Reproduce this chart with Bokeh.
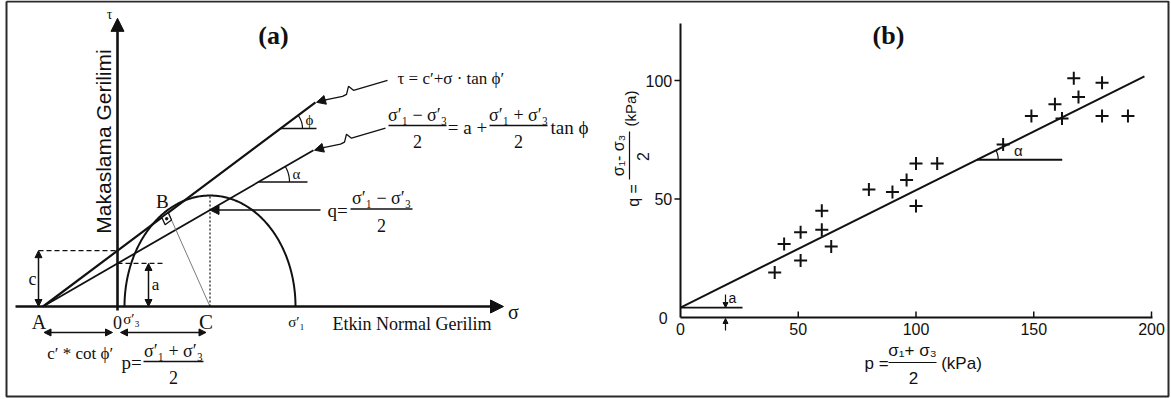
import numpy as np
from bokeh.plotting import figure
from bokeh.models import Range1d, Arrow, NormalHead
from bokeh.core.properties import value
from bokeh.embed import file_html
from bokeh.resources import INLINE

# ---------------- (a) Mohr–Coulomb construction (schematic stress units) ----------------
sigma3_eff = 7.0        # σ'3
sigma1_eff = 178.0      # σ'1
c_eff = 43.0            # c'
phi_eff_deg = 30.0      # φ'
alpha_deg = 24.0        # slope angle of the Kf line
tau_line_end = 198.0    # σ where the τ-envelope stops
kf_line_end = 196.0     # σ where the Kf line stops

# ---------------- (b) p–q results (kPa) ----------------
p_kpa = [40, 44, 51, 51, 60, 60, 64, 80, 90, 96, 100, 100, 109, 137, 149, 159, 162, 167, 169, 179, 179, 190]
q_kpa = [19, 31, 24, 36, 37, 45, 30, 54, 53, 58, 47, 65, 65, 73, 85, 90, 84, 101, 93, 99, 85, 85]
kf_a_kpa = 4.2
kf_tan_alpha = 0.495
kf_p_max = 197
p_ticks = [0, 50, 100, 150, 200]
q_ticks = [0, 50, 100]
p_axis_max = 200.4
q_axis_max = 124

# ---------------- canvas and coordinate systems ----------------
W, H = 1171, 399
A_O = (117, 306); A_SX = 1.0; A_SY = 1.298     # panel (a) origin (px) and px per unit
B_O = (680, 317); B_SX = 2.355; B_SY = 2.37    # panel (b) origin (px) and px per kPa

SERIF = "Liberation Serif"
SANS = "Liberation Sans"
INK = "#111111"

fig = figure(width=W, height=H, x_range=Range1d(0, W), y_range=Range1d(H, 0),
             min_border=0, toolbar_location=None, output_backend="svg",
             x_axis_location=None, y_axis_location=None)
fig.grid.visible = False
fig.outline_line_color = None
fig.background_fill_color = "white"
fig.border_fill_color = "white"
fig.extra_x_ranges = {"sa": Range1d(-A_O[0] / A_SX, (W - A_O[0]) / A_SX),
                      "pb": Range1d(-B_O[0] / B_SX, (W - B_O[0]) / B_SX)}
fig.extra_y_ranges = {"ta": Range1d(-(H - A_O[1]) / A_SY, A_O[1] / A_SY),
                      "qb": Range1d(-(H - B_O[1]) / B_SY, B_O[1] / B_SY)}
RA = dict(x_range_name="sa", y_range_name="ta")
RB = dict(x_range_name="pb", y_range_name="qb")


def a_px(s, t):
    return A_O[0] + s * A_SX, A_O[1] - t * A_SY


def line(xs, ys, rng=None, color=INK, width=1.5, dash="solid"):
    fig.line(list(xs), list(ys), line_color=color, line_width=width, line_dash=dash, **(rng or {}))


def head(size):
    return NormalHead(size=size, fill_color=INK, line_color=INK, line_width=1)


def arrow(x0, y0, x1, y1, rng=None, width=1.5, size=8, both=False):
    fig.add_layout(Arrow(x_start=x0, y_start=y0, x_end=x1, y_end=y1,
                         end=head(size), start=head(size) if both else None,
                         line_color=INK, line_width=width, **(rng or {})))


def txt(x, y, s, size, font=SERIF, align="center", baseline="middle", angle=0.0,
        style="normal", rng=None):
    fig.text(x=[x], y=[y], text=[s], text_font=value(font), text_font_size=f"{size}px",
             text_font_style=style, text_align=align, text_baseline=baseline,
             angle=angle, text_color=INK, **(rng or {}))


def frac_h(xc, ybar, num, den, w, size, font=SERIF, gap_n=11, gap_d=16):
    txt(xc, ybar - gap_n, num, size, font)
    line([xc - w / 2, xc + w / 2], [ybar, ybar], width=1.3)
    txt(xc, ybar + gap_d, den, size, font)


# outer frame
line([6, 1168, 1168, 6, 6], [1, 1, 396, 396, 1], color="#2a2a2a", width=2)

# ======================= panel (a) =======================
tphi = np.tan(np.radians(phi_eff_deg))
talpha = np.tan(np.radians(alpha_deg))
sigma_A = -c_eff / tphi
a_eff = -sigma_A * talpha
p_c = (sigma1_eff + sigma3_eff) / 2
R = (sigma1_eff - sigma3_eff) / 2

# axes with arrowheads
arrow(-102, 0, 386, 0, RA, width=2.6, size=13)
arrow(0, -3, 0, 222, RA, width=2.6, size=13)

# Mohr circle
th = np.linspace(0, np.pi, 240)
line(p_c + R * np.cos(th), R * np.sin(th), RA, width=2)

# failure envelope and Kf line
line([sigma_A, tau_line_end], [0, c_eff + tau_line_end * tphi], RA, width=2.2)
line([sigma_A, kf_line_end], [0, a_eff + kf_line_end * talpha], RA, width=1.8)

# angle marks
def angle_mark(s_v, t_v, t_slope, length_px, r_px, sym, lab_dx, lab_dy):
    line([s_v, s_v + length_px / A_SX], [t_v, t_v], RA, width=1.5)
    ang = np.arctan(t_slope * A_SY / A_SX)
    tt = np.linspace(0, ang, 30)
    line(s_v + r_px * np.cos(tt) / A_SX, t_v + r_px * np.sin(tt) / A_SY, RA, width=1.2)
    txt(s_v + lab_dx / A_SX, t_v + lab_dy / A_SY, sym, 15, rng=RA)

s_phi = 163.0
angle_mark(s_phi, c_eff + s_phi * tphi, tphi, 36, 22, "ϕ", 29, 9)
s_al = 141.0
angle_mark(s_al, a_eff + s_al * talpha, talpha, 49, 31, "α", 38, 8)

# tangent point B, radius BC and right-angle mark
d = np.array([np.cos(np.radians(phi_eff_deg)), np.sin(np.radians(phi_eff_deg))])
P0 = np.array([0.0, c_eff])
Cc = np.array([p_c, 0.0])
Bp = P0 + np.dot(Cc - P0, d) * d
line([Bp[0], p_c], [Bp[1], 0], RA, color="#7a7a7a", width=1)
bx, by = a_px(*Bp)
ax_, ay_ = a_px(sigma_A, 0)
cx_, cy_ = a_px(p_c, 0)
u1 = np.array([ax_ - bx, ay_ - by]); u1 /= np.hypot(*u1)
u2 = np.array([cx_ - bx, cy_ - by]); u2 /= np.hypot(*u2)
s_sq = 8
sq = [np.array([bx, by]), np.array([bx, by]) + s_sq * u1,
      np.array([bx, by]) + s_sq * (u1 + u2), np.array([bx, by]) + s_sq * u2]
fig.patch([q[0] for q in sq], [q[1] for q in sq], fill_color="white", line_color=INK, line_width=1.3)
ctr = np.array([bx, by]) + s_sq * (u1 + u2) / 2
fig.scatter([ctr[0]], [ctr[1]], size=2.5, color=INK)
txt(bx - 6, by - 11, "B", 19)

# q at the top of the circle
line([p_c, p_c], [0, R], RA, width=1.2, dash="2 2")
q_tau = a_eff + p_c * talpha
arrow(203, q_tau, p_c, q_tau, RA, width=1.6, size=9)
qx, qy = a_px(203, q_tau)
txt(qx + 17, qy, "q=", 19)
frac_h(qx + 61, qy - 1, "σ′₁ − σ′₃", "2", 62, 18)

# c and a dimensions
s_cdim = -79
line([s_cdim, 0], [c_eff, c_eff], RA, width=1.3, dash="5 3")
arrow(s_cdim, 0, s_cdim, c_eff, RA, width=1.5, size=7, both=True)
txt(s_cdim - 6, c_eff / 2, "c", 18, rng=RA)
s_adim = 31
line([0, 48], [a_eff, a_eff], RA, width=1.3, dash="5 3")
arrow(s_adim, 0, s_adim, a_eff, RA, width=1.5, size=7, both=True)
txt(s_adim + 7, a_eff / 2, "a", 17, rng=RA)

# labels on the σ axis
txt(sigma_A - 4, -12, "A", 20, rng=RA)
txt(0, -12, "0", 18, rng=RA)
txt(sigma3_eff + 7, -10, "σ′₃", 15, rng=RA)
txt(p_c - 4, -12, "C", 21, rng=RA)
txt(sigma1_eff + 1, -12, "σ′₁", 15, rng=RA)
txt(332, 323, "Etkin Normal Gerilim", 18, align="left")
txt(513, 311, "σ", 20)
txt(109, 14, "τ", 14)
txt(103, 141, "Makaslama Gerilimi", 21, font=SANS, angle=np.pi / 2)

# dimension arrows under the axis
arrow(sigma_A + 1, -20, -5, -20, RA, width=1.5, size=7, both=True)
txt(sigma_A / 2, -36, "c′ * cot ϕ′", 17, rng=RA)
arrow(3, -20, p_c - 4, -20, RA, width=1.5, size=7, both=True)
txt(131, 362, "p=", 19)
frac_h(173, 361, "σ′₁ + σ′₃", "2", 60, 18)

# formulas with lightning leaders
def leader(tx, ty):
    pts = [(72, -22), (38, -12), (33, -16), (31, -8), (27, -6), (10, -2.5)]
    line([tx + p[0] for p in pts], [ty + p[1] for p in pts], width=1.3)
    arrow(tx + 11, ty - 2.8, tx + 1, ty, width=1.3, size=9)

ex, ey = a_px(tau_line_end, c_eff + tau_line_end * tphi)
leader(ex, ey)
kx, ky = a_px(kf_line_end, a_eff + kf_line_end * talpha)
leader(kx, ky)

txt(397, 78, "τ = c′+σ · tan ϕ′", 17, align="left")
frac_h(417, 125, "σ′₁ − σ′₃", "2", 58, 18)
txt(467, 127, "= a +", 19)
frac_h(518, 125, "σ′₁ + σ′₃", "2", 58, 18)
txt(550, 127, "tan ϕ", 19, align="left")

txt(273, 35, "(a)", 26, style="bold")

# ======================= panel (b) =======================
line([0, p_axis_max], [0, 0], RB, width=2)
line([0, 0], [0, q_axis_max], RB, width=2)
xt = p_ticks[1:]
fig.segment(x0=xt, y0=[0] * len(xt), x1=xt, y1=[6 / B_SY] * len(xt), line_color=INK, line_width=1.5, **RB)
yt = q_ticks[1:]
fig.segment(x0=[-6 / B_SX] * len(yt), y0=yt, x1=[0] * len(yt), y1=yt, line_color=INK, line_width=1.5, **RB)
for v in p_ticks:
    txt(v, -5, str(v), 16, font=SANS, rng=RB)
for v in q_ticks:
    txt(-3.5 if v else -5.5, v, str(v), 16, font=SANS, align="right", rng=RB)

# Kf line and data
line([0, kf_p_max], [kf_a_kpa, kf_a_kpa + kf_p_max * kf_tan_alpha], RB, width=2)
fig.scatter(p_kpa, q_kpa, marker="cross", size=13, line_width=2, line_color=INK, **RB)

# α mark on the Kf line
p_v = 126.0
q_v = kf_a_kpa + p_v * kf_tan_alpha
line([p_v, p_v + 85 / B_SX], [q_v, q_v], RB, width=1.8)
ang_b = np.arctan(kf_tan_alpha * B_SY / B_SX)
tb = np.linspace(0, ang_b, 30)
line(p_v + 21 * np.cos(tb) / B_SX, q_v + 21 * np.sin(tb) / B_SY, RB, width=1.2)
txt(p_v + 41 / B_SX, q_v + 9 / B_SY, "α", 15, font=SANS, rng=RB)

# intercept a
line([0, 62 / B_SX], [kf_a_kpa, kf_a_kpa], RB, width=1.8)
p_am = 45 / B_SX
arrow(p_am, kf_a_kpa + 13 / B_SY, p_am, kf_a_kpa, RB, width=1.2, size=5)
arrow(p_am, -13 / B_SY, p_am, -1 / B_SY, RB, width=1.2, size=5)
txt(p_am + 3 / B_SX, kf_a_kpa + 10 / B_SY, "a", 14, font=SANS, align="left", rng=RB)

# axis titles
txt(876, 363, "p =", 17, font=SANS)
txt(912, 350, "σ₁+ σ₃", 17, font=SANS)
line([888, 936], [362, 362], width=1.2)
txt(913, 377, "2", 17, font=SANS)
txt(961, 363, "(kPa)", 17, font=SANS)

rot = np.pi / 2
txt(633, 195, "q =", 16, font=SANS, angle=rot)
txt(618, 155, "σ₁- σ₃", 16, font=SANS, angle=rot)
line([629, 629], [131, 179], width=1.2)
txt(642, 156, "2", 16, font=SANS, angle=rot)
txt(630, 108, "(kPa)", 15, font=SANS, angle=rot)

txt(888, 35, "(b)", 26, style="bold")

open("out.html", "w").write(file_html(fig, INLINE))
